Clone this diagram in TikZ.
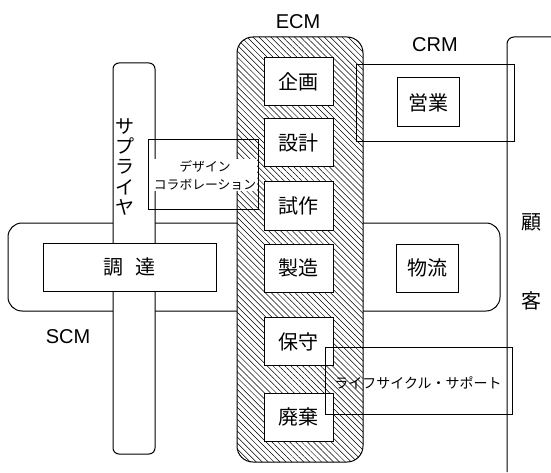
\documentclass[tikz,border=0pt]{standalone}
\usepackage{fontspec}
\setmainfont{Liberation Sans}
\newfontfamily\jp{Noto Sans CJK JP}
\usetikzlibrary{patterns.meta}
\begin{document}
\begin{tikzpicture}[x=1pt,y=-1pt,line width=1pt,
  box/.style={draw,fill=white,inner sep=0pt,font=\jp\fontsize{20}{22}\selectfont},
  ecmbox/.style={box,minimum width=69pt,minimum height=48pt},
  lbl/.style={inner sep=0pt,font=\fontsize{20}{22}\selectfont},
  jplbl/.style={inner sep=0pt,font=\jp\fontsize{20}{22}\selectfont}]
\useasboundingbox (0,0) rectangle (551,473);
% SCM band
\draw[fill=white,rounded corners=14pt] (8,223) rectangle (500,311);
% supplier bar
\draw[fill=white,rounded corners=6pt] (113,63) rectangle (155,454);
\node[jplbl,align=center,font=\jp\fontsize{19}{20.4}\selectfont] (sup) at (125,167) {サ\\プ\\ラ\\イ\\ヤ};
\node[box,minimum width=173pt,minimum height=48pt] (chotatsu) at (129.5,267) {調\hspace{0.6em}達};
% ECM
\draw[preaction={fill=white},pattern={Lines[angle=-45,distance=4.2pt,line width=0.5pt]},rounded corners=16pt] (237,37) rectangle (363,462);
\node[ecmbox] (kikaku) at (298.5,82) {企画};
\node[ecmbox] (sekkei) at (298.5,143) {設計};
\node[ecmbox] (shisaku) at (298.5,206) {試作};
\node[ecmbox] (seizo) at (298.5,268) {製造};
\node[ecmbox] (hoshu) at (298.5,341.5) {保守};
\node[ecmbox] (haiki) at (298.5,417) {廃棄};
% design collaboration
\draw (148,140) rectangle (258,209);
\node[inner sep=1pt,fill=white,align=center,font=\jp\fontsize{12.8}{18}\selectfont] (dc) at (205,175) {デザイン\\コラボレーション};
% customer
\draw[rounded corners=7pt] (507,472) -- (507,37) -- (551,37);
\node[jplbl] (ko) at (531,222) {顧};
\node[jplbl] (kyaku) at (531,301) {客};
% CRM
\draw (356,65) rectangle (514,142);
\node[box,minimum width=62pt,minimum height=49pt] (eigyo) at (428,102.5) {営業};
% logistics
\node[box,minimum width=62pt,minimum height=48pt] (butsuryu) at (427,268) {物流};
% lifecycle support
\draw (325,347) rectangle (512,414);
\node[inner sep=1pt,font=\jp\fontsize{14}{16}\selectfont] (lcs) at (418,383) {ライフサイクル・サポート};
% labels
\node[lbl] (ecm) at (298,22) {ECM};
\node[lbl] (crm) at (435,45) {CRM};
\node[lbl] (scm) at (68,337) {SCM};
\end{tikzpicture}
\end{document}
